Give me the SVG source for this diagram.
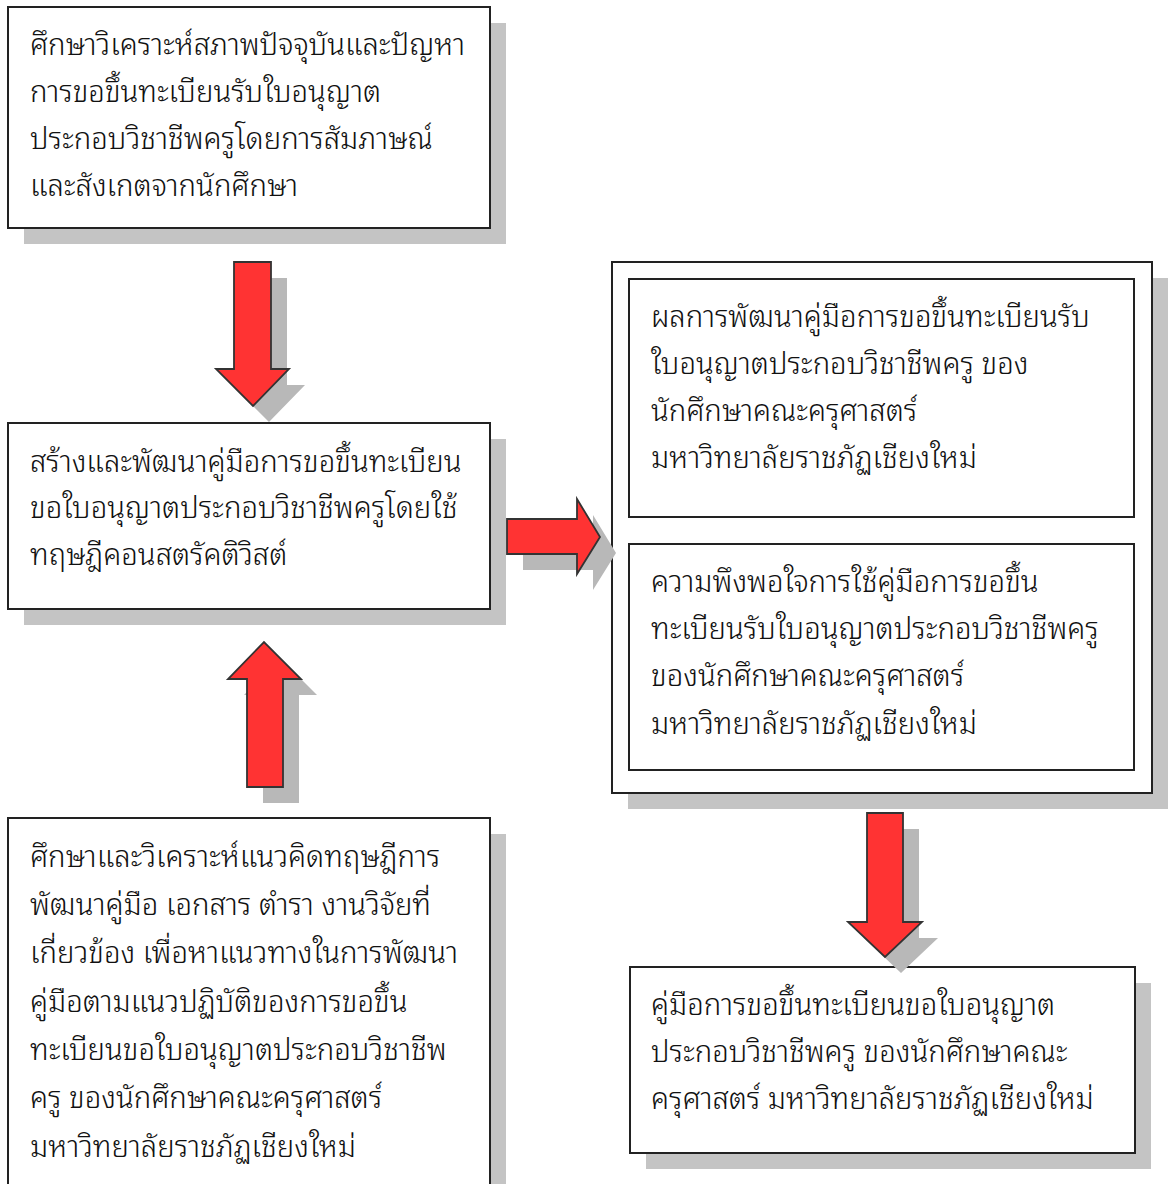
<svg xmlns="http://www.w3.org/2000/svg" width="1170" height="1184" viewBox="0 0 1170 1184">
<style>
.box{fill:#fff;stroke:#222;stroke-width:2}
.inner{fill:#fff;stroke:#222;stroke-width:2}
.shadow{fill:#c4c4c4}
.arrow{fill:#ff3333;stroke:#333;stroke-width:1.8;stroke-linejoin:miter}
.ashadow{fill:#b8b8b8}
.t{font-family:"Noto Sans Thai Looped","Noto Sans Thai","Noto Sans","DejaVu Sans",sans-serif;font-size:29.3px;font-weight:300;fill:#111}
</style>
<rect width="1170" height="1184" fill="#fff"/>
<g id="node-survey">
<rect class="shadow" x="24" y="23" width="482" height="221"/>
<rect class="box" x="8" y="7" width="482" height="221"/>
<text class="t"><tspan x="30" y="55">ศึกษาวิเคราะห์สภาพปัจจุบันและปัญหา</tspan><tspan x="30" y="102">การขอขึ้นทะเบียนรับใบอนุญาต</tspan><tspan x="30" y="149">ประกอบวิชาชีพครูโดยการสัมภาษณ์</tspan><tspan x="30" y="196">และสังเกตจากนักศึกษา</tspan></text>
</g>
<g id="node-develop">
<rect class="shadow" x="24" y="439" width="482" height="186"/>
<rect class="box" x="8" y="423" width="482" height="186"/>
<text class="t"><tspan x="30" y="472">สร้างและพัฒนาคู่มือการขอขึ้นทะเบียน</tspan><tspan x="30" y="518">ขอใบอนุญาตประกอบวิชาชีพครูโดยใช้</tspan><tspan x="30" y="565">ทฤษฎีคอนสตรัคติวิสต์</tspan></text>
</g>
<g id="node-theory">
<rect class="shadow" x="24" y="834" width="482" height="400"/>
<rect class="box" x="8" y="818" width="482" height="400"/>
<text class="t"><tspan x="30" y="867">ศึกษาและวิเคราะห์แนวคิดทฤษฎีการ</tspan><tspan x="30" y="915">พัฒนาคู่มือ เอกสาร ตำรา งานวิจัยที่</tspan><tspan x="30" y="963">เกี่ยวข้อง เพื่อหาแนวทางในการพัฒนา</tspan><tspan x="30" y="1012">คู่มือตามแนวปฏิบัติของการขอขึ้น</tspan><tspan x="30" y="1060">ทะเบียนขอใบอนุญาตประกอบวิชาชีพ</tspan><tspan x="30" y="1108">ครู ของนักศึกษาคณะครุศาสตร์</tspan><tspan x="30" y="1157">มหาวิทยาลัยราชภัฏเชียงใหม่</tspan></text>
</g>
<g id="node-results">
<rect class="shadow" x="628" y="278" width="540" height="531"/>
<rect class="box" x="612" y="262" width="540" height="531"/>
<g id="node-result-manual">
<rect class="inner" x="629" y="279" width="505" height="238"/>
<text class="t"><tspan x="651" y="327">ผลการพัฒนาคู่มือการขอขึ้นทะเบียนรับ</tspan><tspan x="651" y="374">ใบอนุญาตประกอบวิชาชีพครู ของ</tspan><tspan x="651" y="421">นักศึกษาคณะครุศาสตร์</tspan><tspan x="651" y="468">มหาวิทยาลัยราชภัฏเชียงใหม่</tspan></text>
</g>
<g id="node-result-satisfaction">
<rect class="inner" x="629" y="544" width="505" height="226"/>
<text class="t"><tspan x="651" y="592">ความพึงพอใจการใช้คู่มือการขอขึ้น</tspan><tspan x="651" y="639">ทะเบียนรับใบอนุญาตประกอบวิชาชีพครู</tspan><tspan x="651" y="686">ของนักศึกษาคณะครุศาสตร์</tspan><tspan x="651" y="734">มหาวิทยาลัยราชภัฏเชียงใหม่</tspan></text>
</g>
</g>
<g id="node-manual">
<rect class="shadow" x="646" y="983" width="505" height="186"/>
<rect class="box" x="630" y="967" width="505" height="186"/>
<text class="t"><tspan x="651" y="1015">คู่มือการขอขึ้นทะเบียนขอใบอนุญาต</tspan><tspan x="651" y="1062">ประกอบวิชาชีพครู ของนักศึกษาคณะ</tspan><tspan x="651" y="1109">ครุศาสตร์ มหาวิทยาลัยราชภัฏเชียงใหม่</tspan></text>
</g>
<g id="connectors">
<polygon class="ashadow" transform="translate(16,16)" points="234,262 271,262 271,369 289,369 253,406 216,369 234,369"/>
<polygon class="arrow" points="234,262 271,262 271,369 289,369 253,406 216,369 234,369"/>
<polygon class="ashadow" transform="translate(16,16)" points="247,787 283,787 283,679 301,679 264,642 228,679 247,679"/>
<polygon class="arrow" points="247,787 283,787 283,679 301,679 264,642 228,679 247,679"/>
<polygon class="ashadow" transform="translate(16,16)" points="507,519 577,519 577,499 600,537 577,574 577,554 507,554"/>
<polygon class="arrow" points="507,519 577,519 577,499 600,537 577,574 577,554 507,554"/>
<polygon class="ashadow" transform="translate(16,16)" points="867,813 903,813 903,922 922,922 885,957 848,922 867,922"/>
<polygon class="arrow" points="867,813 903,813 903,922 922,922 885,957 848,922 867,922"/>
</g>
</svg>
